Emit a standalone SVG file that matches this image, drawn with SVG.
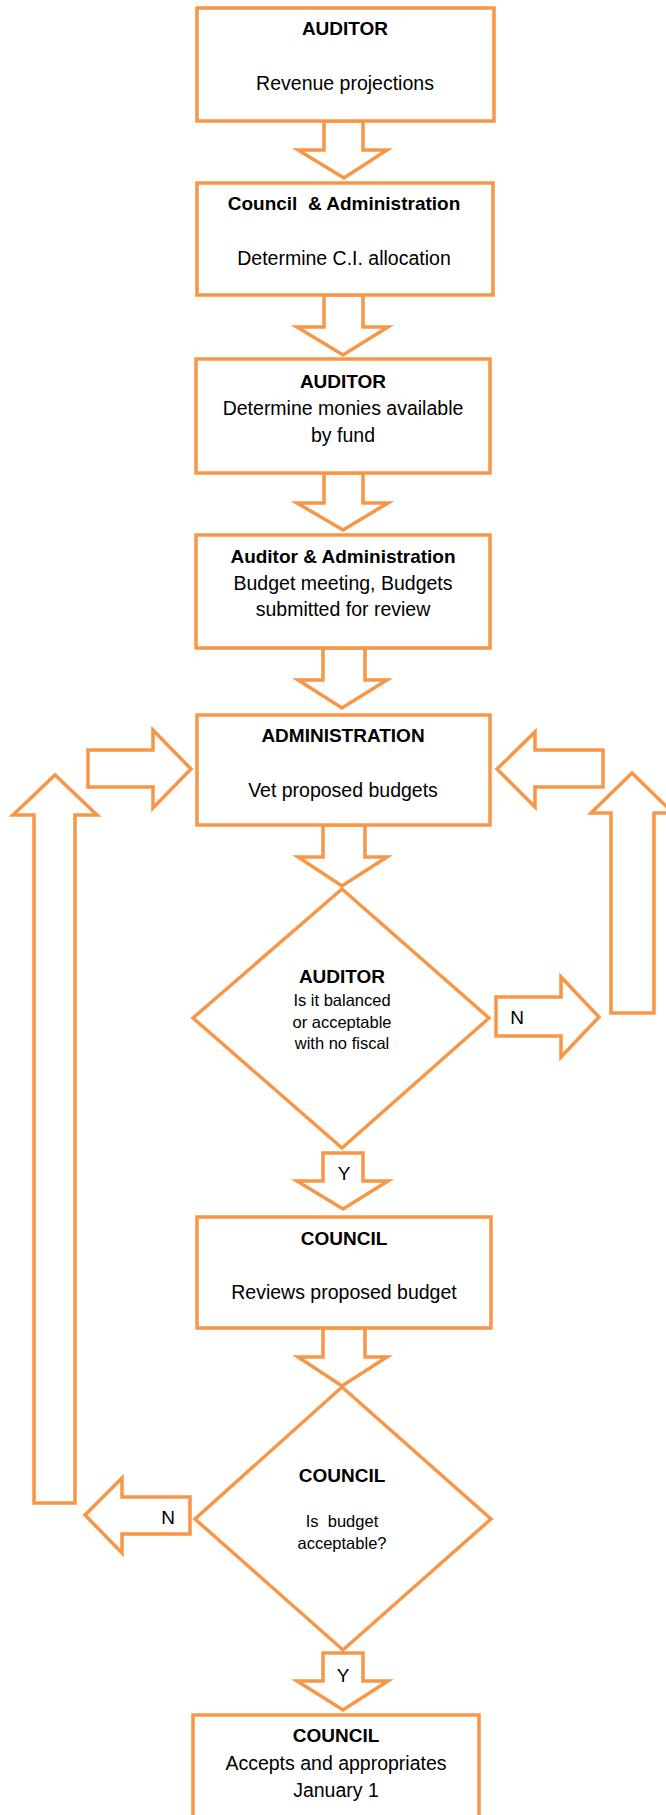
<svg xmlns="http://www.w3.org/2000/svg" width="666" height="1815" viewBox="0 0 666 1815">
<style>
.s{fill:#fff;stroke:#F79646;stroke-width:3.5;stroke-linejoin:miter}
text{font-family:"Liberation Sans",Arial,sans-serif;fill:#000;text-anchor:middle;white-space:pre}
.h{font-weight:bold;font-size:19px}
.b{font-size:19.5px}
.d{font-size:16.5px}
.l{font-size:19px}
</style>
<rect width="666" height="1815" fill="#fff"/>
<g id="connectors">
<polygon class="s" points="324,121 363,121 363,150 387,150 344,178 298,150 324,150"/>
<polygon class="s" points="324,295 363,295 363,327 388,327 343,355 297,327 324,327"/>
<polygon class="s" points="324,473 363,473 363,503 388,503 343,530 297,503 324,503"/>
<polygon class="s" points="323,648 365,648 365,680 387,680 342,708 298,680 323,680"/>
<polygon class="s" points="323,825 365,825 365,857 387,857 342,886 298,857 323,857"/>
<polygon class="s" points="88,750 153,750 153,730 191,769 153,808 153,787 88,787"/>
<polygon class="s" points="603,750 535,750 535,732 497,769 535,807 535,787 603,787"/>
<polygon class="s" points="34,1503 34,815 13,815 55,775 97,815 75,815 75,1503"/>
<polygon class="s" points="611,1013 611,813 591,813 632,773 673,813 654,813 654,1013"/>
<polygon class="s" points="496,997 561,997 561,977 599,1017 561,1057 561,1036 496,1036"/>
<text class="l" x="517" y="1024">N</text>
<polygon class="s" points="323,1153 363,1153 363,1181 388,1181 343,1209 297,1181 323,1181"/>
<text class="l" x="344" y="1180">Y</text>
<polygon class="s" points="323,1328 365,1328 365,1357 387,1357 342,1386 298,1357 323,1357"/>
<polygon class="s" points="190,1497 122,1497 122,1478 85,1515 122,1553 122,1534 190,1534"/>
<text class="l" x="168" y="1524">N</text>
<polygon class="s" points="323,1653 363,1653 363,1681 388,1681 343,1710 297,1681 323,1681"/>
<text class="l" x="343" y="1682">Y</text>
</g>
<g id="auditor-revenue">
<rect class="s" x="197" y="8" width="297" height="113"/>
<text class="h" x="345" y="35">AUDITOR</text>
<text class="b" x="345" y="90">Revenue projections</text>
</g>
<g id="council-admin-ci">
<rect class="s" x="197" y="183" width="296" height="112"/>
<text class="h" x="344" y="210">Council  &amp; Administration</text>
<text class="b" x="344" y="265">Determine C.I. allocation</text>
</g>
<g id="auditor-monies">
<rect class="s" x="196" y="359" width="294" height="114"/>
<text class="h" x="343" y="388">AUDITOR</text>
<text class="b" x="343" y="415">Determine monies available</text>
<text class="b" x="343" y="442">by fund</text>
</g>
<g id="auditor-admin-meeting">
<rect class="s" x="196" y="535" width="294" height="113"/>
<text class="h" x="343" y="563">Auditor &amp; Administration</text>
<text class="b" x="343" y="590">Budget meeting, Budgets</text>
<text class="b" x="343" y="616">submitted for review</text>
</g>
<g id="administration-vet">
<rect class="s" x="197" y="715" width="293" height="110"/>
<text class="h" x="343" y="742">ADMINISTRATION</text>
<text class="b" x="343" y="797">Vet proposed budgets</text>
</g>
<g id="auditor-decision">
<polygon class="s" points="342,889 489,1018 342,1148 193,1018"/>
<text class="h" x="342" y="983">AUDITOR</text>
<text class="d" x="342" y="1006">Is it balanced</text>
<text class="d" x="342" y="1028">or acceptable</text>
<text class="d" x="342" y="1049">with no fiscal</text>
</g>
<g id="council-review">
<rect class="s" x="197" y="1217" width="294" height="111"/>
<text class="h" x="344" y="1245">COUNCIL</text>
<text class="b" x="344" y="1299">Reviews proposed budget</text>
</g>
<g id="council-decision">
<polygon class="s" points="342,1387 491,1519 343,1650 195,1519"/>
<text class="h" x="342" y="1482">COUNCIL</text>
<text class="d" x="342" y="1527">Is  budget</text>
<text class="d" x="342" y="1549">acceptable?</text>
</g>
<g id="council-accepts">
<rect class="s" x="193" y="1715" width="286" height="120"/>
<text class="h" x="336" y="1742">COUNCIL</text>
<text class="b" x="336" y="1770">Accepts and appropriates</text>
<text class="b" x="336" y="1797">January 1</text>
</g>
</svg>
